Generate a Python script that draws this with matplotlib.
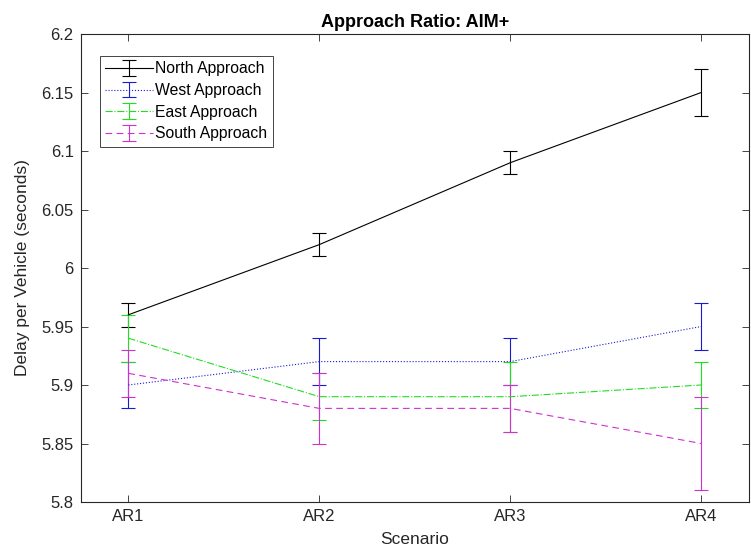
import matplotlib
matplotlib.use("Agg")
import matplotlib.pyplot as plt
from matplotlib.ticker import FuncFormatter

plt.rcParams['font.family'] = ['Liberation Sans', 'DejaVu Sans']

scenarios = ["AR1", "AR2", "AR3", "AR4"]
x = [1, 2, 3, 4]

north = [5.96, 6.02, 6.09, 6.15]
north_err = [0.01, 0.01, 0.01, 0.02]
west = [5.90, 5.92, 5.92, 5.95]
west_err = [0.02, 0.02, 0.02, 0.02]
east = [5.94, 5.89, 5.89, 5.90]
east_err = [0.02, 0.02, 0.03, 0.02]
south = [5.91, 5.88, 5.88, 5.85]
south_err = [0.02, 0.03, 0.02, 0.04]

series = [
    ("North Approach", north, north_err, "#000000", "-"),
    ("West Approach", west, west_err, "#1a1ad0", ":"),
    ("East Approach", east, east_err, "#22dd22", "-."),
    ("South Approach", south, south_err, "#d030d0", (0, (6, 4))),
]

fig = plt.figure(figsize=(7.51, 5.58), dpi=100)
ax = fig.add_axes([80.6 / 751, 56 / 558, (749 - 80.6) / 751, (502 - 34) / 558])

for name, vals, errs, col, ls in series:
    ax.errorbar(x, vals, yerr=errs, color=col, linestyle=ls, linewidth=0.8,
                elinewidth=0.8, capsize=5, capthick=0.8, label=name)

ax.set_xlim(0.75, 4.25)
ax.set_ylim(5.8, 6.2)
ax.set_xticks(x)
ax.set_xticklabels(scenarios)
ax.set_yticks([5.8 + 0.05 * i for i in range(9)])
ax.yaxis.set_major_formatter(FuncFormatter(lambda v, p: f"{round(v, 2):g}"))

edge = "#262626"
for s in ax.spines.values():
    s.set_color(edge)
    s.set_linewidth(0.8)
ax.tick_params(direction="in", top=True, right=True, length=5, width=0.6,
               colors=edge, labelsize=12, pad=5)

ax.set_xlabel("Scenario", fontsize=12.5, color=edge, labelpad=6)
ax.set_ylabel("Delay per Vehicle (seconds)", fontsize=12.5, color=edge, labelpad=8)
ax.set_title("Approach Ratio: AIM+", fontsize=13, fontweight="bold", color="#000000", pad=5)

leg = ax.legend(loc="upper left", bbox_to_anchor=(19.4 / 668.4, 1 - 22 / 468),
                fontsize=11.3, frameon=True, fancybox=False, framealpha=1,
                edgecolor=edge, handlelength=3.0, handletextpad=0.15,
                borderpad=0.35, labelspacing=0.42, borderaxespad=0)
leg.get_frame().set_linewidth(0.6)

fig.savefig("out.png", dpi=100)
